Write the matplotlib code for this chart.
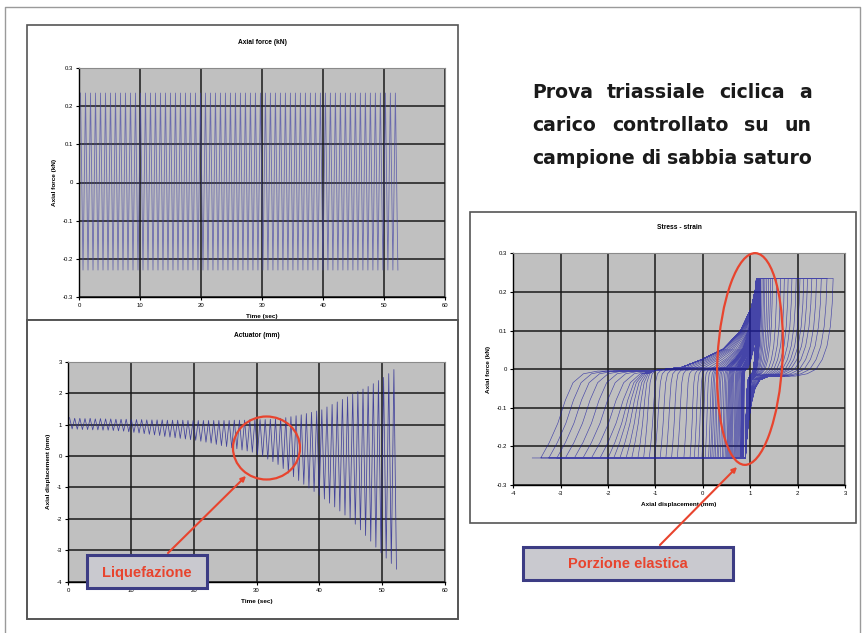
import numpy as np
import matplotlib
matplotlib.use("Agg")
import matplotlib.pyplot as plt
from matplotlib.patches import Rectangle, Ellipse
from matplotlib.ticker import FuncFormatter

W, H = 865, 633

# cyclic test: one load cycle every ~0.82 s, 64 cycles
cycle_period = 0.82
force_peak = 0.235
force_trough = -0.23

# actuator displacement (mm) at each load peak / trough
disp_peak = [
    1.22, 1.20, 1.20, 1.19, 1.20, 1.18, 1.19, 1.18, 1.18, 1.17,
    1.17, 1.17, 1.16, 1.16, 1.16, 1.15, 1.15, 1.15, 1.15, 1.14,
    1.14, 1.14, 1.14, 1.13, 1.13, 1.13, 1.13, 1.13, 1.13, 1.13,
    1.13, 1.13, 1.14, 1.14, 1.14, 1.15, 1.15, 1.16, 1.16, 1.17,
    1.18, 1.20, 1.22, 1.25, 1.28, 1.31, 1.35, 1.39, 1.43, 1.47,
    1.56, 1.64, 1.72, 1.80, 1.88, 1.97, 2.05, 2.13, 2.21, 2.30,
    2.40, 2.50, 2.62, 2.75]
disp_trough = [
    0.86, 0.85, 0.84, 0.84, 0.83, 0.83, 0.82, 0.82, 0.81, 0.80,
    0.79, 0.77, 0.75, 0.73, 0.71, 0.69, 0.67, 0.65, 0.62, 0.60,
    0.58, 0.56, 0.54, 0.52, 0.50, 0.47, 0.44, 0.41, 0.37, 0.33,
    0.30, 0.26, 0.23, 0.19, 0.16, 0.12, 0.05, -0.02, -0.10, -0.18,
    -0.27, -0.40, -0.54, -0.66, -0.78, -0.90, -1.02, -1.13, -1.25, -1.37,
    -1.50, -1.62, -1.75, -1.88, -2.00, -2.17, -2.35, -2.53, -2.71, -2.90,
    -3.08, -3.25, -3.42, -3.60]

# loop shape
elastic_top = 1.16
elastic_bottom = 0.9
load_left_dx = [0, 0.18, 0.36, 0.52, 0.68, 0.9, 1.2]
load_left_f = [-0.23, -0.19, -0.14, -0.08, -0.035, -0.012, -0.005]
load_right_dx = [-2.2, -1.6, -1.16, -0.73, -0.38, -0.14, 0]
load_right_f = [-0.004, 0.005, 0.026, 0.052, 0.096, 0.157, 0.235]
unload_right_dx = [0, -0.02, -0.06, -0.13, -0.23, -0.36, -0.55, -0.8]
unload_right_f = [0.235, 0.17, 0.11, 0.06, 0.025, 0.0, -0.012, -0.018]
unload_left_dx = [0.5, 0.3, 0.2, 0.12, 0.06, 0.02, 0]
unload_left_f = [-0.018, -0.028, -0.05, -0.09, -0.14, -0.19, -0.23]

x_time = [0, 10, 20, 30, 40, 50, 60]
y_force = [-0.3, -0.2, -0.1, 0, 0.1, 0.2, 0.3]
y_disp = [-4, -3, -2, -1, 0, 1, 2, 3]
x_strain = [-4, -3, -2, -1, 0, 1, 2, 3]

statement = ["Prova triassiale ciclica a",
             "carico controllato su un",
             "campione di sabbia saturo"]

# ---- time series
n = len(disp_peak)
t_peak = 0.2 + cycle_period * np.arange(n)
t_trough = t_peak + cycle_period / 2
t_series = np.empty(2 * n)
t_series[0::2] = t_peak
t_series[1::2] = t_trough
force_series = np.empty(2 * n)
force_series[0::2] = force_peak
force_series[1::2] = force_trough
disp_series = np.empty(2 * n)
disp_series[0::2] = disp_peak
disp_series[1::2] = disp_trough


def branch_scales(width, w_left, w_right, right_share):
    s_r = min(1.0, right_share * width / w_right)
    s_l = min(1.0, (width - w_right * s_r) / w_left)
    return s_l, s_r


# ---- stress-strain path, one loop per cycle
ss_x, ss_f = [], []
for i in range(n):
    xp, xt = disp_peak[i], disp_trough[i]
    s_l, s_r = branch_scales(xp - elastic_bottom, 0.5, 0.8, 0.6)
    ss_x += list(xp + s_r * np.array(unload_right_dx))
    ss_f += unload_right_f
    ss_x += list(elastic_bottom + s_l * np.array(unload_left_dx))
    ss_f += unload_left_f
    ss_x.append(xt)
    ss_f.append(force_trough)
    if i + 1 < n:
        xp2 = disp_peak[i + 1]
        x_et = min(elastic_top, xp2)
        s_l, s_r = branch_scales(x_et - xt, 1.2, 2.2, 0.9)
        ss_x += list(xt + s_l * np.array(load_left_dx))
        ss_f += load_left_f
        ss_x += list(x_et + s_r * np.array(load_right_dx))
        ss_f += load_right_f
        ss_x.append(xp2)
        ss_f.append(force_peak)

fig = plt.figure(figsize=(W / 100, H / 100), dpi=100)
fig.patch.set_facecolor("white")


def px_axes(l, t, r, b, z):
    return fig.add_axes([l / W, 1 - b / H, (r - l) / W, (b - t) / H], zorder=z)


def overlay(z):
    a = fig.add_axes([0, 0, 1, 1], zorder=z)
    a.set_xlim(0, W)
    a.set_ylim(H, 0)
    a.axis("off")
    return a


fmt = FuncFormatter(lambda v, p: f"{v:g}")


def excel_style(ax, xt, yt, title, xlabel, ylabel):
    ax.set_facecolor("#c0c0c0")
    ax.set_xlim(xt[0], xt[-1])
    ax.set_ylim(yt[0], yt[-1])
    ax.set_xticks(xt)
    ax.set_yticks(yt)
    ax.xaxis.set_major_formatter(fmt)
    ax.yaxis.set_major_formatter(fmt)
    ax.grid(True, color="#1a1a1a", lw=1.1)
    ax.set_axisbelow(True)
    for s in ["top", "right"]:
        ax.spines[s].set_color("#8a8a8a")
        ax.spines[s].set_linewidth(0.8)
    for s in ["left", "bottom"]:
        ax.spines[s].set_color("black")
        ax.spines[s].set_linewidth(1.0)
    ax.tick_params(direction="out", length=2.5, width=0.8, labelsize=4.3, pad=2)
    ax.set_title(title, fontsize=4.8, fontweight="bold", pad=17.5, family="Liberation Sans")
    ax.set_xlabel(xlabel, fontsize=4.6, fontweight="bold", labelpad=4, family="Liberation Sans")
    ax.set_ylabel(ylabel, fontsize=4.6, fontweight="bold", labelpad=4, family="Liberation Sans")
    for lab in ax.get_xticklabels() + ax.get_yticklabels():
        lab.set_family("Liberation Sans")


# background: slide border, chart frames
bg = overlay(0)
bg.plot([5, 5, 860, 860], [H, 7, 7, H], color="#9a9a9a", lw=1.0)
bg.add_patch(Rectangle((27, 25), 431, 295, fc="white", ec="#555555", lw=1.2))
bg.add_patch(Rectangle((470, 212), 386, 311, fc="white", ec="#555555", lw=1.2))

ax1 = px_axes(79.3, 68.3, 445, 296.7, 1)
ax1.plot(t_series, force_series, color="#4646a6", lw=0.6, alpha=0.7)
excel_style(ax1, x_time, y_force, "Axial force (kN)", "Time (sec)", "Axial force (kN)")

mid = overlay(2)
mid.add_patch(Rectangle((27, 320), 431, 299, fc="white", ec="#555555", lw=1.4))

ax2 = px_axes(68.3, 361.7, 445, 581.7, 3)
ax2.plot(t_series, disp_series, color="#2c2c94", lw=0.55, alpha=0.85)
excel_style(ax2, x_time, y_disp, "Actuator (mm)", "Time (sec)", "Axial displacement (mm)")

ax3 = px_axes(513.3, 253.3, 845, 485, 3)
ax3.plot(ss_x, ss_f, color="#1c1ca0", lw=0.45, alpha=0.75)
excel_style(ax3, x_strain, y_force, "Stress - strain", "Axial displacement (mm)", "Axial force (kN)")

# annotations
top = overlay(10)
red = "#e8442e"
top.add_patch(Ellipse((266.5, 448), 67, 63, fill=False, ec=red, lw=1.6))
top.add_patch(Ellipse((750, 359), 65, 212, angle=3, fill=False, ec=red, lw=1.6))
top.annotate("", xy=(248, 474), xytext=(166, 555),
             arrowprops=dict(arrowstyle="-|>", color=red, lw=1.5, mutation_scale=7))
top.annotate("", xy=(739, 465), xytext=(658, 547),
             arrowprops=dict(arrowstyle="-|>", color=red, lw=1.5, mutation_scale=7))
for (x0, y0, x1, y1, label) in [(87, 555, 207, 588, "Liquefazione"),
                                (523, 547, 733, 580, "Porzione elastica")]:
    top.add_patch(Rectangle((x0, y0), x1 - x0, y1 - y0, fc="#c9c9cf", ec="#3c3c84", lw=2.2))
    top.text((x0 + x1) / 2, (y0 + y1) / 2 + 1, label, color=red, fontsize=10.5,
             fontweight="bold", family="Liberation Sans", ha="center", va="center")

# justified statement text
renderer = fig.canvas.get_renderer()
text_left, text_right = 532, 812
for line, base in zip(statement, [98.5, 131, 163.5]):
    words = line.split()
    objs = [top.text(0, base, w, fontsize=13.6, fontweight="bold", family="DejaVu Sans",
                     color="#1a1a1a", ha="left", va="baseline") for w in words]
    widths = [o.get_window_extent(renderer).width for o in objs]
    gap = (text_right - text_left - sum(widths)) / (len(words) - 1)
    x = text_left
    for o, w in zip(objs, widths):
        o.set_x(x)
        x += w + gap

fig.savefig("out.png", dpi=100)
